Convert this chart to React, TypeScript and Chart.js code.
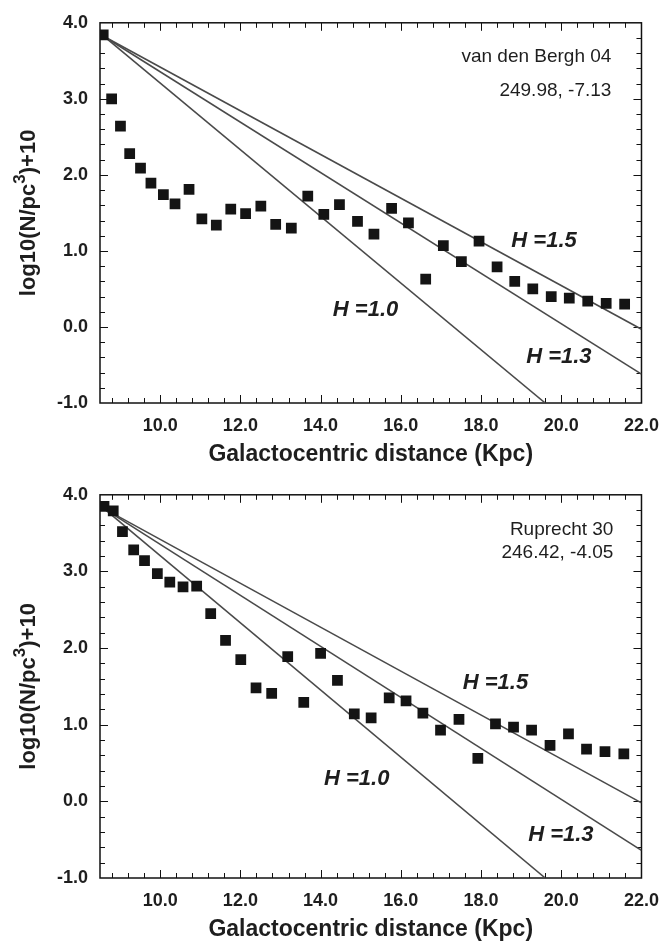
import React, { useEffect, useRef } from 'react';
import { Chart, registerables } from 'chart.js';

Chart.register(...registerables);

// ---------- axis ranges & tick labels ----------
const X_MIN = 8.5;
const X_MAX = 22.0;
const Y_MIN = -1.0;
const Y_MAX = 4.0;
const xTickValues = [10, 12, 14, 16, 18, 20, 22];
const yTickValues = [-1, 0, 1, 2, 3, 4];
const X_TITLE = 'Galactocentric distance (Kpc)';
// y title drawn as three runs: base, superscript, base
const Y_TITLE_PARTS = ['log10(N/pc', '3', ')+10'];

// ---------- panel 1 : van den Bergh 04 ----------
const vdbX = [8.58, 8.79, 9.01, 9.24, 9.51, 9.77, 10.08, 10.37, 10.72, 11.04, 11.40, 11.76, 12.13, 12.51, 12.88, 13.27, 13.68, 14.08, 14.47, 14.92, 15.33, 15.77, 16.19, 16.62, 17.06, 17.51, 17.95, 18.40, 18.84, 19.29, 19.75, 20.20, 20.66, 21.12, 21.58];
const vdbY = [3.84, 3.00, 2.64, 2.28, 2.09, 1.89, 1.74, 1.62, 1.81, 1.42, 1.34, 1.55, 1.49, 1.59, 1.35, 1.30, 1.72, 1.48, 1.61, 1.39, 1.22, 1.56, 1.37, 0.63, 1.07, 0.86, 1.13, 0.79, 0.60, 0.50, 0.40, 0.38, 0.34, 0.31, 0.30];
const vdbH15X = [8.6, 22.0];
const vdbH15Y = [3.82, -0.03];
const vdbH13X = [8.6, 22.0];
const vdbH13Y = [3.82, -0.62];
const vdbH10X = [8.6, 19.6];
const vdbH10Y = [3.82, -1.0];
const vdbName = 'van den Bergh 04';
const vdbCoords = '249.98, -7.13';

// ---------- panel 2 : Ruprecht 30 ----------
const rupX = [8.60, 8.83, 9.06, 9.34, 9.61, 9.93, 10.24, 10.57, 10.91, 11.26, 11.63, 12.01, 12.39, 12.78, 13.18, 13.58, 14.00, 14.42, 14.84, 15.26, 15.71, 16.13, 16.55, 16.99, 17.45, 17.92, 18.36, 18.81, 19.26, 19.72, 20.18, 20.63, 21.09, 21.56];
const rupY = [3.85, 3.79, 3.52, 3.28, 3.14, 2.97, 2.86, 2.80, 2.81, 2.45, 2.10, 1.85, 1.48, 1.41, 1.89, 1.29, 1.93, 1.58, 1.14, 1.09, 1.35, 1.31, 1.15, 0.93, 1.07, 0.56, 1.01, 0.97, 0.93, 0.73, 0.88, 0.68, 0.65, 0.62];
const rupH15X = [8.6, 22.0];
const rupH15Y = [3.82, -0.02];
const rupH13X = [8.6, 22.0];
const rupH13Y = [3.82, -0.64];
const rupH10X = [8.6, 19.6];
const rupH10Y = [3.82, -1.0];
const rupName = 'Ruprecht 30';
const rupCoords = '246.42, -4.05';

const hLabels = ['H =1.5', 'H =1.0', 'H =1.3'];

const FONT = 'Arial, "Liberation Sans", Helvetica, sans-serif';
const TEXT = '#1e1e1e';

type XY = { x: number; y: number };
const zip = (xs: number[], ys: number[]): XY[] => xs.map((x, i) => ({ x, y: ys[i] }));

interface Panel {
  ptsX: number[];
  ptsY: number[];
  lines: [number[], number[]][];
  name: string;
  coords: string;
  nameAt: [number, number];
  coordsAt: [number, number];
  hAt: [number, number][];
  padTop: number;
  xAxisH: number;
  xTitlePad: number;
}

const panels: Panel[] = [
  {
    ptsX: vdbX, ptsY: vdbY,
    lines: [[vdbH15X, vdbH15Y], [vdbH13X, vdbH13Y], [vdbH10X, vdbH10Y]],
    name: vdbName, coords: vdbCoords,
    nameAt: [21.25, 3.55], coordsAt: [21.25, 3.11],
    hAt: [[19.57, 1.13], [15.12, 0.23], [19.94, -0.40]],
    padTop: 18, xAxisH: 69, xTitlePad: 4,
  },
  {
    ptsX: rupX, ptsY: rupY,
    lines: [[rupH15X, rupH15Y], [rupH13X, rupH13Y], [rupH10X, rupH10Y]],
    name: rupName, coords: rupCoords,
    nameAt: [21.3, 3.55], coordsAt: [21.3, 3.25],
    hAt: [[18.36, 1.55], [14.9, 0.29], [19.99, -0.44]],
    padTop: 21, xAxisH: 66, xTitlePad: 1,
  },
];

const framePlugin = {
  id: 'frameTicks',
  beforeDatasetsDraw(chart: any) {
    const { ctx, chartArea: a, scales } = chart;
    const xs = scales.x, ys = scales.y;
    ctx.save();
    ctx.strokeStyle = '#111';
    ctx.lineWidth = 1;
    const MAJ = 8, MIN = 5;
    for (let i = -10; i <= 40; i++) {
      const v = 10 + i * 0.4;
      if (v <= X_MIN + 1e-6 || v >= X_MAX - 1e-6) continue;
      const major = Math.abs(v / 2 - Math.round(v / 2)) < 1e-6;
      const len = major ? MAJ : MIN;
      const px = Math.round(xs.getPixelForValue(v)) + 0.5;
      ctx.beginPath();
      ctx.moveTo(px, a.bottom); ctx.lineTo(px, a.bottom - len);
      ctx.moveTo(px, a.top); ctx.lineTo(px, a.top + len);
      ctx.stroke();
    }
    for (let i = 1; i < 25; i++) {
      const v = Y_MIN + i * 0.2;
      const major = Math.abs(v - Math.round(v)) < 1e-6;
      const len = major ? MAJ : MIN;
      const py = Math.round(ys.getPixelForValue(v)) + 0.5;
      ctx.beginPath();
      ctx.moveTo(a.left, py); ctx.lineTo(a.left + len, py);
      ctx.moveTo(a.right, py); ctx.lineTo(a.right - len, py);
      ctx.stroke();
    }
    ctx.lineWidth = 1.5;
    ctx.strokeRect(a.left, a.top, a.right - a.left, a.bottom - a.top);
    ctx.restore();
  },
  afterDatasetsDraw(chart: any, _args: any, opts: any) {
    const p: Panel = opts.panel;
    if (!p) return;
    const { ctx, scales, chartArea: a } = chart;
    const xs = scales.x, ys = scales.y;
    ctx.save();
    ctx.fillStyle = TEXT;
    ctx.textBaseline = 'middle';
    ctx.textAlign = 'right';
    ctx.font = `19px ${FONT}`;
    ctx.fillText(p.name, xs.getPixelForValue(p.nameAt[0]), ys.getPixelForValue(p.nameAt[1]));
    ctx.fillText(p.coords, xs.getPixelForValue(p.coordsAt[0]), ys.getPixelForValue(p.coordsAt[1]));
    ctx.textAlign = 'center';
    ctx.font = `italic bold 22px ${FONT}`;
    hLabels.forEach((t, i) => {
      ctx.fillText(t, xs.getPixelForValue(p.hAt[i][0]), ys.getPixelForValue(p.hAt[i][1]));
    });
    ctx.restore();

    // y-axis title with a real superscript
    ctx.save();
    const baseFont = `bold 22px ${FONT}`;
    const supFont = `bold 17px ${FONT}`;
    ctx.font = baseFont;
    const w0 = ctx.measureText(Y_TITLE_PARTS[0]).width;
    const w2 = ctx.measureText(Y_TITLE_PARTS[2]).width;
    ctx.font = supFont;
    const w1 = ctx.measureText(Y_TITLE_PARTS[1]).width;
    const total = w0 + w1 + w2;
    const cy = (a.top + a.bottom) / 2;
    ctx.translate(29, cy);
    ctx.rotate(-Math.PI / 2);
    ctx.fillStyle = TEXT;
    ctx.textAlign = 'left';
    ctx.textBaseline = 'middle';
    let x0 = -total / 2;
    ctx.font = baseFont;
    ctx.fillText(Y_TITLE_PARTS[0], x0, 0);
    x0 += w0;
    ctx.font = supFont;
    ctx.fillText(Y_TITLE_PARTS[1], x0, -9);
    x0 += w1;
    ctx.font = baseFont;
    ctx.fillText(Y_TITLE_PARTS[2], x0, 0);
    ctx.restore();
  },
};

function makeConfig(p: Panel): any {
  const lineDs = p.lines.map(([lx, ly]) => ({
    type: 'line',
    data: zip(lx, ly),
    borderColor: '#4a4a4a',
    borderWidth: 1.6,
    pointRadius: 0,
    fill: false,
    tension: 0,
    order: 2,
  }));
  return {
    type: 'scatter',
    data: {
      datasets: [
        ...lineDs,
        {
          type: 'scatter',
          data: zip(p.ptsX, p.ptsY),
          pointStyle: 'rect',
          pointRadius: 7.6,
          backgroundColor: '#141414',
          borderColor: '#141414',
          borderWidth: 0,
          order: 1,
        },
      ],
    },
    options: {
      responsive: false,
      animation: false,
      devicePixelRatio: 1,
      events: [],
      layout: { padding: { top: p.padTop, right: 22, left: 0, bottom: 0 } },
      plugins: {
        legend: { display: false },
        tooltip: { enabled: false },
        frameTicks: { panel: p },
      },
      scales: {
        x: {
          type: 'linear',
          min: X_MIN,
          max: X_MAX,
          afterBuildTicks: (s: any) => { s.ticks = xTickValues.map((v) => ({ value: v })); },
          afterFit: (s: any) => { s.height = p.xAxisH; },
          grid: { display: false, drawTicks: false },
          border: { display: false },
          ticks: {
            padding: 12,
            color: TEXT,
            autoSkip: false,
            maxRotation: 0,
            font: { family: FONT, size: 18, weight: 'bold' },
            callback: (v: any) => Number(v).toFixed(1),
          },
          title: {
            display: true,
            text: X_TITLE,
            color: TEXT,
            font: { family: FONT, size: 23, weight: 'bold' },
            padding: { top: 0, bottom: p.xTitlePad },
          },
        },
        y: {
          type: 'linear',
          min: Y_MIN,
          max: Y_MAX,
          afterBuildTicks: (s: any) => { s.ticks = yTickValues.map((v) => ({ value: v })); },
          afterFit: (s: any) => { s.width = 100; },
          grid: { display: false, drawTicks: false },
          border: { display: false },
          ticks: {
            padding: 12,
            color: TEXT,
            autoSkip: false,
            font: { family: FONT, size: 18, weight: 'bold' },
            callback: (v: any) => Number(v).toFixed(1),
          },
          title: { display: false },
        },
      },
    },
    plugins: [framePlugin],
  };
}

function PanelChart({ panel }: { panel: Panel }) {
  const ref = useRef<HTMLCanvasElement | null>(null);
  useEffect(() => {
    if (!ref.current) return;
    const chart = new Chart(ref.current, makeConfig(panel));
    return () => chart.destroy();
  }, [panel]);
  return <canvas ref={ref} width={671} height={472} style={{ display: 'block', width: 671, height: 472 }} />;
}

export default function App() {
  return (
    <div style={{ position: 'absolute', left: 0, top: 0, width: 671, height: 944, background: '#ffffff' }}>
      {panels.map((p, i) => (
        <PanelChart key={i} panel={p} />
      ))}
    </div>
  );
}
